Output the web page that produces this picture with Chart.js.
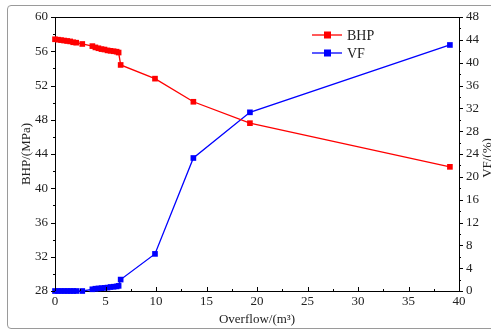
<!DOCTYPE html>
<html lang="en">
<head>
    <meta charset="UTF-8">
    <title>BHP and VF vs Overflow</title>
    <style>
        body {
            margin: 0;
            background-color: #ffffff;
            overflow: hidden;
        }
        #frame {
            position: absolute;
            left: 7px;
            top: 5px;
            width: 500px;
            height: 322px;
            border: 1px solid #9a9a9a;
            border-radius: 4px;
        }
        #wrap {
            position: absolute;
            left: 0;
            top: 0;
            width: 491px;
            height: 332px;
        }
    </style>
    <script src="https://cdn.jsdelivr.net/npm/chart.js"></script>
</head>
<body>
    <div id="frame"></div>
    <div id="wrap"><canvas id="chart"></canvas></div>
    <script>
        const overflow = [0, 0.3, 0.6, 0.9, 1.2, 1.5, 1.8, 2.1, 2.7, 3.7, 4.0, 4.3, 4.6, 4.9, 5.2, 5.5, 5.8, 6.1, 6.3, 6.5, 9.9, 13.7, 19.3, 39.1];
        const bhp = [57.4, 57.35, 57.3, 57.25, 57.2, 57.15, 57.05, 57.0, 56.85, 56.6, 56.45, 56.35, 56.25, 56.2, 56.1, 56.05, 56.0, 55.95, 55.85, 54.4, 52.8, 50.1, 47.6, 42.5];
        const vf = [0, 0, 0, 0, 0, 0, 0, 0, 0, 0.3, 0.4, 0.45, 0.5, 0.55, 0.6, 0.7, 0.75, 0.8, 0.9, 2.0, 6.5, 23.3, 31.3, 43.1];

        const xTicks = [0, 5, 10, 15, 20, 25, 30, 35, 40];
        const bhpTicks = [28, 32, 36, 40, 44, 48, 52, 56, 60];
        const vfTicks = [0, 4, 8, 12, 16, 20, 24, 28, 32, 36, 40, 44, 48];

        const serif = "'Liberation Serif', 'Times New Roman', serif";

        const pts = (ys) => overflow.map((x, i) => ({ x: x, y: ys[i] }));

        // minor/major ticks, titles and legend drawn by hand
        const decor = {
            id: 'decor',
            afterDraw(chart) {
                const ctx = chart.ctx;
                const a = chart.chartArea;
                const sx = chart.scales.x, sl = chart.scales.y, sr = chart.scales.y1;
                ctx.save();
                ctx.strokeStyle = '#000';
                ctx.lineWidth = 1;
                ctx.beginPath();
                ctx.moveTo(a.left, a.top + 0.5);
                ctx.lineTo(a.right, a.top + 0.5);
                for (let v = 0; v <= 40; v += 2.5) {
                    const px = Math.round(sx.getPixelForValue(v)) + 0.5;
                    const len = v % 5 === 0 ? 4 : 2;
                    ctx.moveTo(px, a.bottom);
                    ctx.lineTo(px, a.bottom - len);
                }
                for (let v = 28; v <= 60; v += 2) {
                    const py = Math.round(sl.getPixelForValue(v)) + 0.5;
                    const len = (v - 28) % 4 === 0 ? 4 : 2;
                    ctx.moveTo(a.left, py);
                    ctx.lineTo(a.left - len, py);
                }
                for (let v = 0; v <= 48; v += 2) {
                    const py = Math.round(sr.getPixelForValue(v)) + 0.5;
                    const len = v % 4 === 0 ? 4 : 2;
                    ctx.moveTo(a.right, py);
                    ctx.lineTo(a.right + len, py);
                }
                ctx.stroke();

                ctx.fillStyle = '#222';
                ctx.font = '13px ' + serif;
                ctx.textAlign = 'center';
                ctx.textBaseline = 'middle';
                ctx.fillText('Overflow/(m\u00b3)', (a.left + a.right) / 2, 320);
                ctx.save();
                ctx.translate(27, 154);
                ctx.rotate(-Math.PI / 2);
                ctx.fillText('BHP/(MPa)', 0, 0);
                ctx.restore();
                ctx.save();
                ctx.translate(488, 158);
                ctx.rotate(-Math.PI / 2);
                ctx.fillText('VF/(%)', 0, 0);
                ctx.restore();

                const items = [['BHP', '#ff0000', 35], ['VF', '#0000ff', 53]];
                items.forEach(([label, color, y]) => {
                    ctx.strokeStyle = color;
                    ctx.fillStyle = color;
                    ctx.lineWidth = 1.3;
                    ctx.beginPath();
                    ctx.moveTo(312, y);
                    ctx.lineTo(342, y);
                    ctx.stroke();
                    ctx.fillRect(324, y - 3.5, 7, 7);
                    ctx.fillStyle = '#222';
                    ctx.font = '14px ' + serif;
                    ctx.textAlign = 'left';
                    ctx.fillText(label, 347, y + 1);
                });
                ctx.restore();
            }
        };

        const tickFont = { family: serif, size: 13 };

        new Chart(document.getElementById('chart'), {
            type: 'line',
            data: {
                datasets: [{
                    label: 'BHP',
                    data: pts(bhp),
                    yAxisID: 'y',
                    borderColor: '#ff0000',
                    backgroundColor: '#ff0000',
                    borderWidth: 1.3,
                    pointStyle: 'rect',
                    pointRadius: 4,
                    pointBorderWidth: 0,
                    clip: false
                }, {
                    label: 'VF',
                    data: pts(vf),
                    yAxisID: 'y1',
                    borderColor: '#0000ff',
                    backgroundColor: '#0000ff',
                    borderWidth: 1.3,
                    pointStyle: 'rect',
                    pointRadius: 4,
                    pointBorderWidth: 0,
                    clip: false
                }]
            },
            options: {
                responsive: true,
                maintainAspectRatio: false,
                animation: false,
                layout: { padding: { top: 17, left: 0, right: 0, bottom: 0 } },
                plugins: {
                    legend: { display: false },
                    tooltip: { enabled: false }
                },
                scales: {
                    x: {
                        type: 'linear',
                        min: 0,
                        max: 40,
                        afterBuildTicks: (s) => { s.ticks = xTicks.map(v => ({ value: v })); },
                        ticks: { color: '#222', font: tickFont, padding: 3, maxRotation: 0 },
                        grid: { display: false, drawTicks: false },
                        border: { display: true, color: '#000', width: 1 },
                        afterFit: (s) => { s.height = 41; }
                    },
                    y: {
                        position: 'left',
                        min: 28,
                        max: 60,
                        afterBuildTicks: (s) => { s.ticks = bhpTicks.map(v => ({ value: v })); },
                        ticks: { color: '#222', font: tickFont, padding: 3 },
                        grid: { display: false, drawTicks: true, tickLength: 4 },
                        border: { display: true, color: '#000', width: 1 },
                        afterFit: (s) => { s.width = 55; }
                    },
                    y1: {
                        position: 'right',
                        min: 0,
                        max: 48,
                        afterBuildTicks: (s) => { s.ticks = vfTicks.map(v => ({ value: v })); },
                        ticks: { color: '#222', font: tickFont, padding: 3 },
                        grid: { display: false, drawTicks: true, tickLength: 4 },
                        border: { display: true, color: '#000', width: 1 },
                        afterFit: (s) => { s.width = 32; }
                    }
                }
            },
            plugins: [decor]
        });
    </script>
</body>
</html>
